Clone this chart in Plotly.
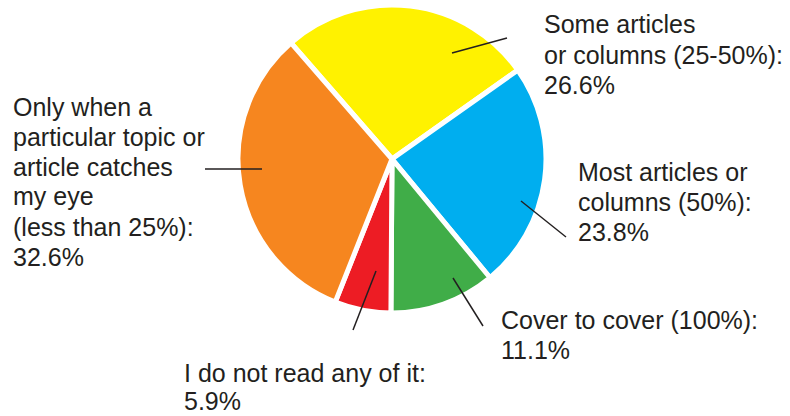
import plotly.graph_objects as go

categories = [
    "Some articles or columns (25-50%)",
    "Most articles or columns (50%)",
    "Cover to cover (100%)",
    "I do not read any of it",
    "Only when a particular topic or article catches my eye (less than 25%)",
]
values = [26.6, 23.8, 11.1, 5.9, 32.6]
colors = ["#fff200", "#00aeef", "#40ad48", "#ed1c24", "#f6861f"]

label_lines = [
    ["Some articles", "or columns (25-50%):", "26.6%"],
    ["Most articles or", "columns (50%):", "23.8%"],
    ["Cover to cover (100%):", "11.1%"],
    ["I do not read any of it:", "5.9%"],
    ["Only when a", "particular topic or", "article catches", "my eye", "(less than 25%):", "32.6%"],
]

W, H = 790, 416
cx, cy, R = 392, 159, 154

fig = go.Figure(go.Pie(
    labels=categories,
    values=values,
    sort=False,
    direction="clockwise",
    rotation=-41,
    marker=dict(colors=colors, line=dict(color="white", width=5)),
    textinfo="none",
    hoverinfo="label+percent",
    showlegend=False,
    domain=dict(x=[(cx - R) / W, (cx + R) / W], y=[(H - cy - R) / H, (H - cy + R) / H]),
))

# label placement (left x, first baseline y, line spacing) in pixels
label_pos = [(543, 33, 30), (577, 180, 30), (500, 328, 30), (183, 381, 28), (12, 115, 30)]
# leader lines (x0, y0, x1, y1) in pixels
leaders = [(452, 53, 507, 38), (521, 201, 566, 237), (453, 278, 483, 326),
           (376, 271, 353, 330), (205, 169, 262, 169)]

FS = 25
annotations = []
for lines, (lx, by, sp) in zip(label_lines, label_pos):
    for i, t in enumerate(lines):
        base = by + i * sp
        annotations.append(dict(
            text=t, x=lx / W, y=1 - (base - 8.5) / H, xref="paper", yref="paper",
            xanchor="left", yanchor="middle", showarrow=False, borderpad=0,
            font=dict(family="Liberation Sans, Arial, sans-serif", size=FS, color="#231f20"),
        ))

shapes = []
for x0, y0, x1, y1 in leaders:
    shapes.append(dict(type="line", xref="paper", yref="paper",
                       x0=x0 / W, y0=1 - y0 / H, x1=x1 / W, y1=1 - y1 / H,
                       line=dict(color="#231f20", width=1.5)))

fig.update_layout(
    width=W, height=H,
    margin=dict(l=0, r=0, t=0, b=0),
    paper_bgcolor="white", plot_bgcolor="white",
    annotations=annotations, shapes=shapes,
)

fig.write_html("out.html")
